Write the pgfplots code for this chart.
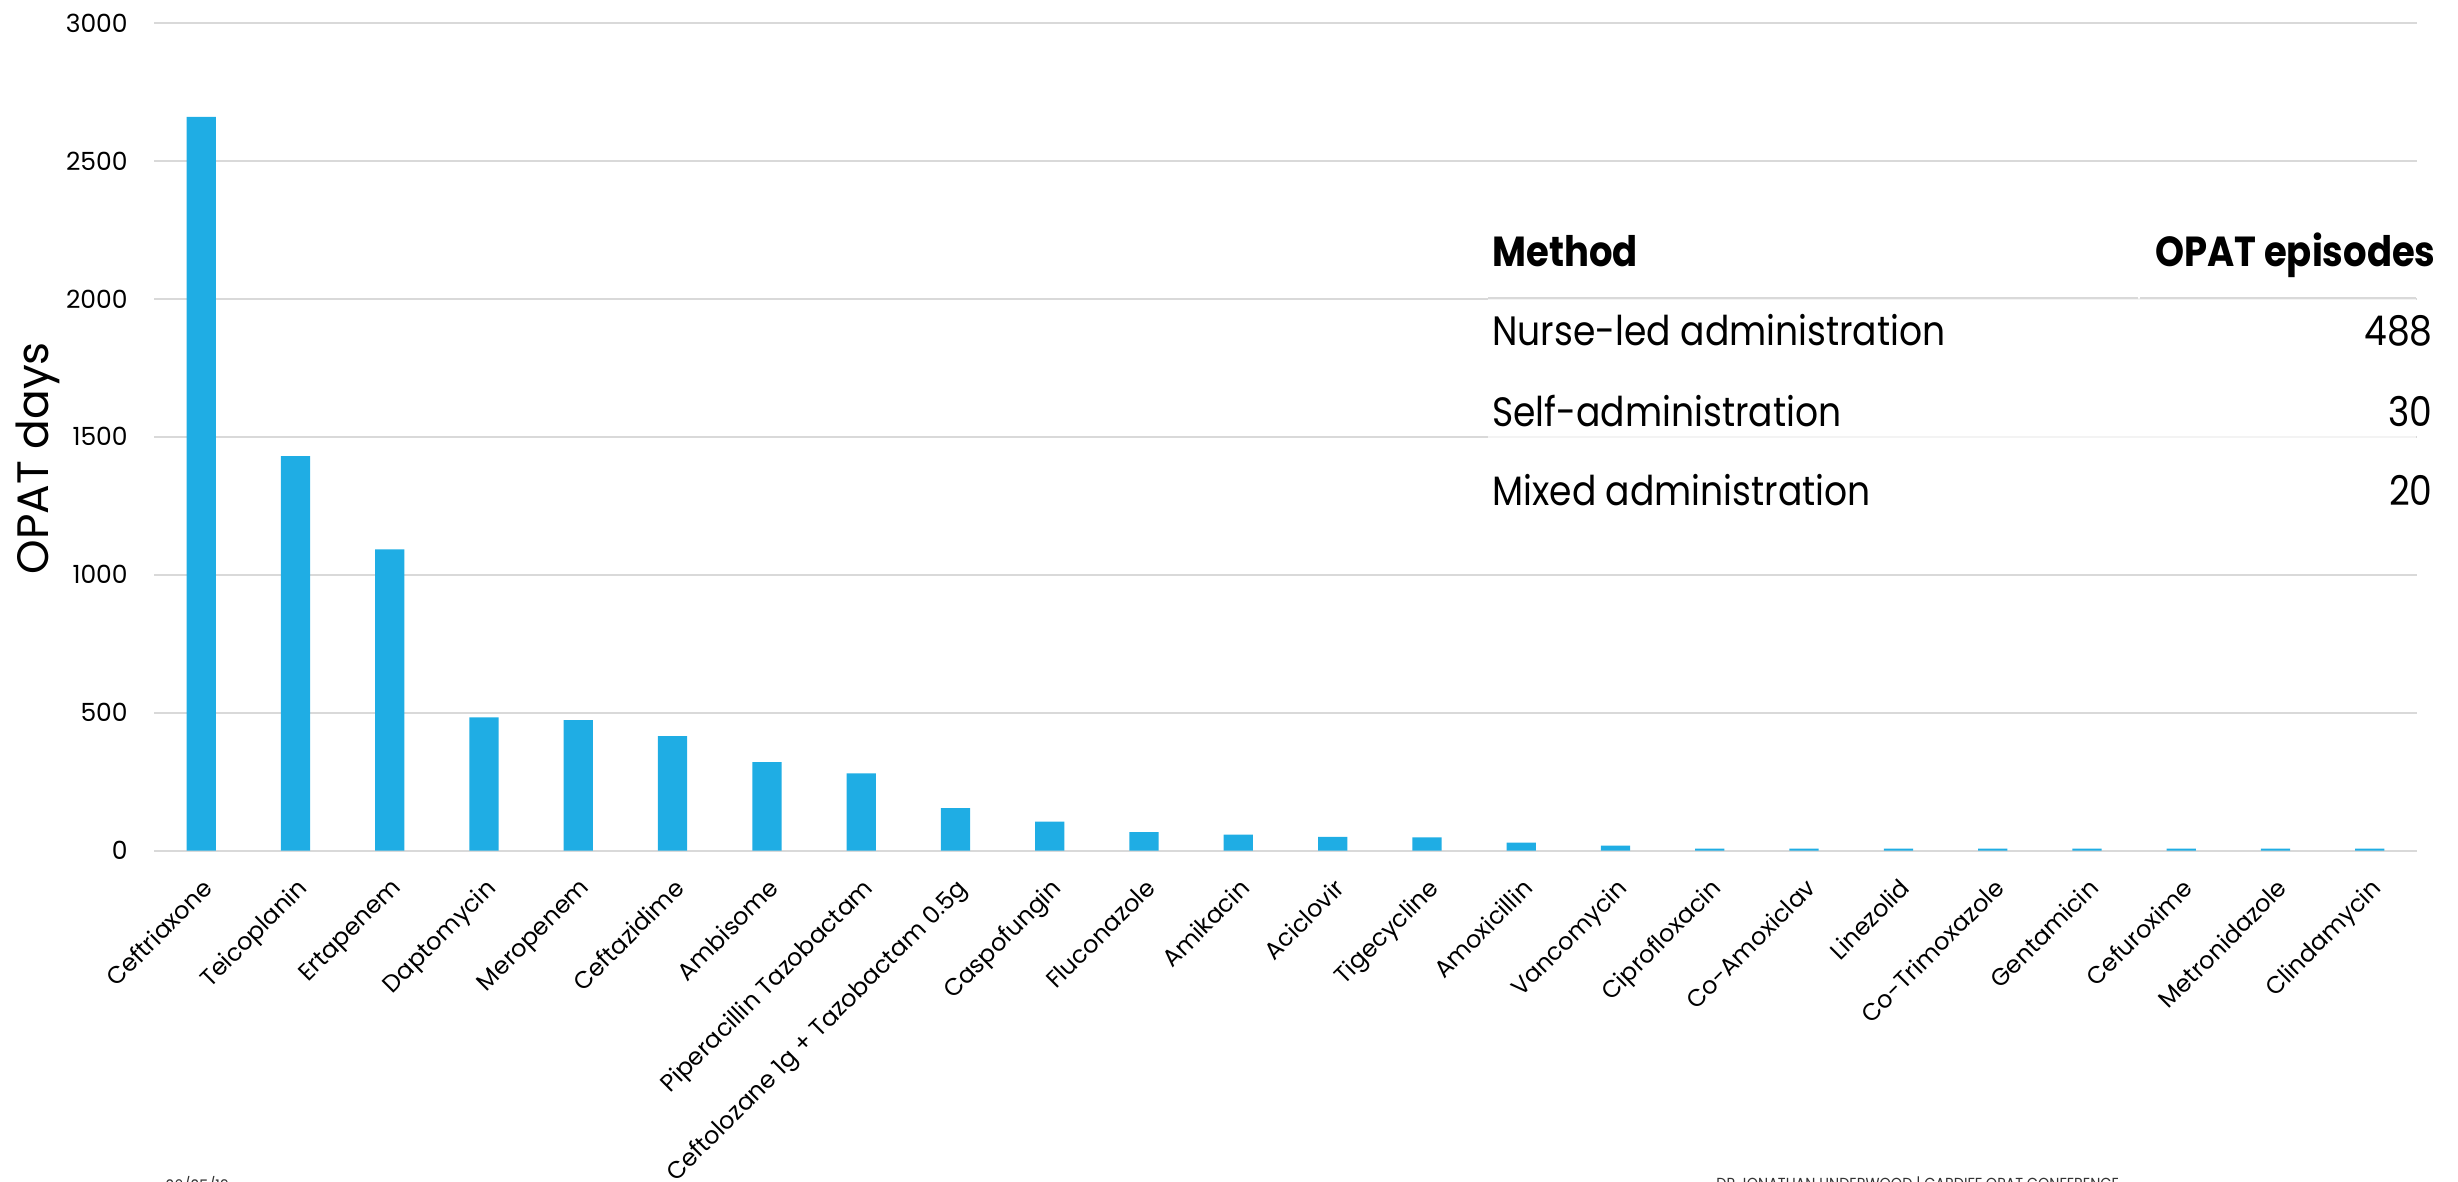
\documentclass[border=0pt]{standalone}
\usepackage{pgfplots}
\pgfplotsset{compat=1.18}
\usepackage{fontspec}
\setmainfont{Poppins}
\newfontfamily\tabfont[FakeStretch=0.88]{Poppins}
\newfontfamily\footfont[FakeStretch=0.9]{Poppins}
\definecolor{barblue}{HTML}{1FADE4}
\definecolor{gridgray}{HTML}{D9D9D9}

\begin{document}
\begin{tikzpicture}
\useasboundingbox (0,0) rectangle (1229pt,-591pt);
\begin{axis}[
  at={(77pt,-425.25pt)}, anchor=south west,
  scale only axis, width=1131.5pt, height=413.75pt,
  xmin=-0.5, xmax=23.5, ymin=0, ymax=3000,
  ytick={0,500,...,3000},
  xtick=data,
  xticklabels={Ceftriaxone,Teicoplanin,Ertapenem,Daptomycin,Meropenem,Ceftazidime,Ambisome,Piperacillin Tazobactam,Ceftolozane 1g + Tazobactam 0.5g,Caspofungin,Fluconazole,Amikacin,Aciclovir,Tigecycline,Amoxicillin,Vancomycin,Ciprofloxacin,Co-Amoxiclav,Linezolid,Co-Trimoxazole,Gentamicin,Cefuroxime,Metronidazole,Clindamycin},
  axis line style={draw=none},
  major tick length=0pt,
  tick style={draw=none},
  ymajorgrids,
  grid style={gridgray, line width=1pt},
  /pgf/number format/1000 sep={},
  /pgf/number format/assume math mode=true,
  yticklabel={\pgfmathprintnumber{\tick}\hspace*{13pt}},
  yticklabel style={font=\fontsize{12.5}{14}\selectfont, inner sep=0pt, anchor=east},
  xticklabel shift=13pt,
  xticklabel style={font=\fontsize{12}{14}\selectfont, rotate=45, anchor=north east, inner sep=0pt},
  ylabel={OPAT days},
  ylabel style={font=\fontsize{22}{26}\selectfont, at={(axis description cs:-0.0513,0.474)}, anchor=center},
  ybar, bar width=0.31,
  clip=false,
]
\addplot[fill=barblue, draw=none] coordinates {
  (0,2660) (1,1430) (2,1092) (3,483) (4,473) (5,415) (6,320) (7,280)
  (8,154) (9,105) (10,67) (11,58) (12,49) (13,48) (14,29) (15,18)
  (16,7) (17,7) (18,7) (19,7) (20,7) (21,7) (22,7) (23,7)
};
\end{axis}

% summary table of administration methods, laid over the plot area
\begin{scope}[x=0.5pt,y=-0.5pt]
  \fill[white, opacity=0.7] (1488,212) rectangle (2416,530);
  \draw[gridgray, line width=1pt] (1488,298.5) -- (2138,298.5);
  \draw[gridgray, line width=1pt] (2140,298.5) -- (2416,298.5);
  \begin{scope}[every node/.style={inner sep=0pt}]
    \node[anchor=base west, font=\tabfont\bfseries\fontsize{21}{24}\selectfont] at (1492,266.7) {Method};
    \node[anchor=base east, font=\tabfont\bfseries\fontsize{21}{24}\selectfont] at (2436,266.7) {OPAT episodes};
    \node[anchor=base west, font=\tabfont\fontsize{20.5}{24}\selectfont] at (1492,345.7) {Nurse-led administration};
    \node[anchor=base east, font=\tabfont\fontsize{20.5}{24}\selectfont] at (2433,345.7) {488};
    \node[anchor=base west, font=\tabfont\fontsize{20.5}{24}\selectfont] at (1492,426.2) {Self-administration};
    \node[anchor=base east, font=\tabfont\fontsize{20.5}{24}\selectfont] at (2433,426.2) {30};
    \node[anchor=base west, font=\tabfont\fontsize{20.5}{24}\selectfont] at (1492,505) {Mixed administration};
    \node[anchor=base east, font=\tabfont\fontsize{20.5}{24}\selectfont] at (2433,505) {20};
  \end{scope}
  % slide footer, cut by the lower edge
  \node[anchor=north west, inner sep=0pt, text=black!80, font=\footfont\fontsize{8}{9}\selectfont] at (165,1176) {06/05/19};
  \node[anchor=north west, inner sep=0pt, text=black!80, font=\footfont\fontsize{8}{9}\selectfont] at (1716,1176) {DR JONATHAN UNDERWOOD | CARDIFF OPAT CONFERENCE};
\end{scope}
\end{tikzpicture}
\end{document}
